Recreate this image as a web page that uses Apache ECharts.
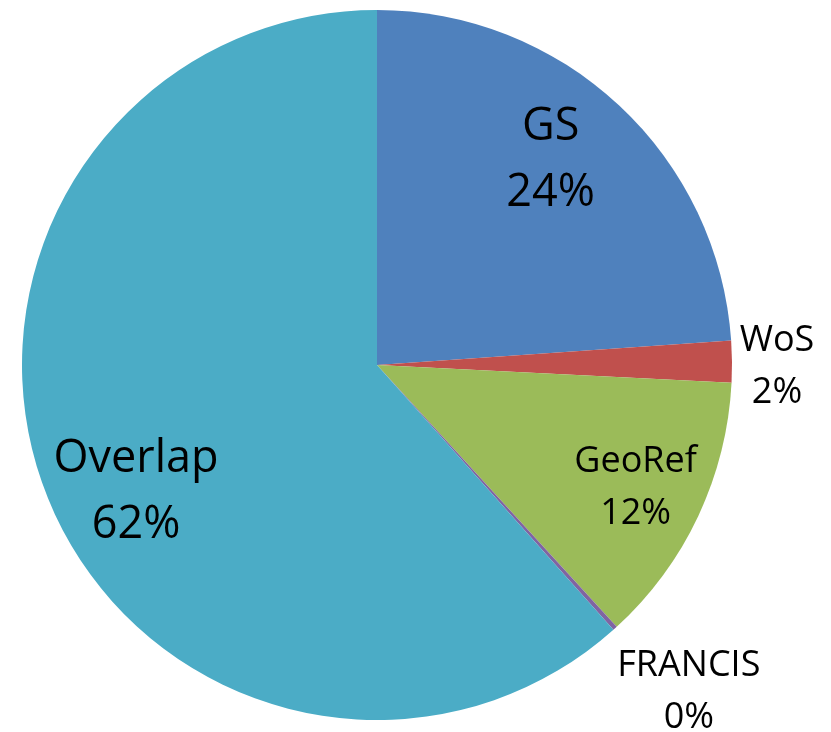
<!DOCTYPE html>
<html>
<head>
<meta charset="utf-8">
<script src="https://cdn.jsdelivr.net/npm/echarts@6/dist/echarts.min.js"></script>
<style>
  html, body { margin: 0; background: #fff; }
  #chart { width: 831px; height: 732px; }
</style>
</head>
<body>
<div id="chart"></div>
<script>
const names = ['GS', 'WoS', 'GeoRef', 'FRANCIS', 'Overlap']
const shares = [23.9, 1.9, 12.4, 0.2, 61.6]
const colors = ['#4F81BD', '#C0504D', '#9BBB59', '#8064A2', '#4BACC6']

const center = [377, 365]
const font = '"Open Sans", "Noto Sans", sans-serif'

const pieData = names.map((n, i) => ({ name: n, value: shares[i] }))

// transparent copy of the pie, only there to put one label at a given radius
function labelRing(radius, shown, fontSize, lineHeight, nudge) {
  return {
    type: 'pie',
    center,
    radius,
    startAngle: 90,
    silent: true,
    animation: false,
    emphasis: { disabled: true },
    itemStyle: { color: 'rgba(0,0,0,0)' },
    labelLine: { show: false },
    label: {
      position: 'inside',
      fontFamily: font,
      fontSize,
      lineHeight,
      color: '#000',
      formatter: p => p.name + '\n' + Math.round(p.percent) + '%'
    },
    labelLayout: () => nudge,
    data: pieData.map(d => ({ ...d, label: { show: d.name === shown } }))
  }
}

const chart = echarts.init(document.getElementById('chart'))

chart.setOption({
  animation: false,
  color: colors,
  series: [
    {
      type: 'pie',
      center,
      radius: 355,
      startAngle: 90,
      label: { show: false },
      labelLine: { show: false },
      emphasis: { disabled: true },
      data: pieData
    },
    labelRing([220, 324], 'GS', 45, 66, { dx: -14, dy: -4 }),
    labelRing([220, 324], 'Overlap', 45, 66, { dx: 16, dy: 29 }),
    labelRing([230, 340], 'GeoRef', 36, 52, { dx: -2, dy: 0 }),
    labelRing([380, 418], 'WoS', 36, 52, { dx: -2, dy: 6 }),
    labelRing([430, 470], 'FRANCIS', 36, 52, { dx: 8, dy: -9 })
  ]
})
</script>
</body>
</html>
